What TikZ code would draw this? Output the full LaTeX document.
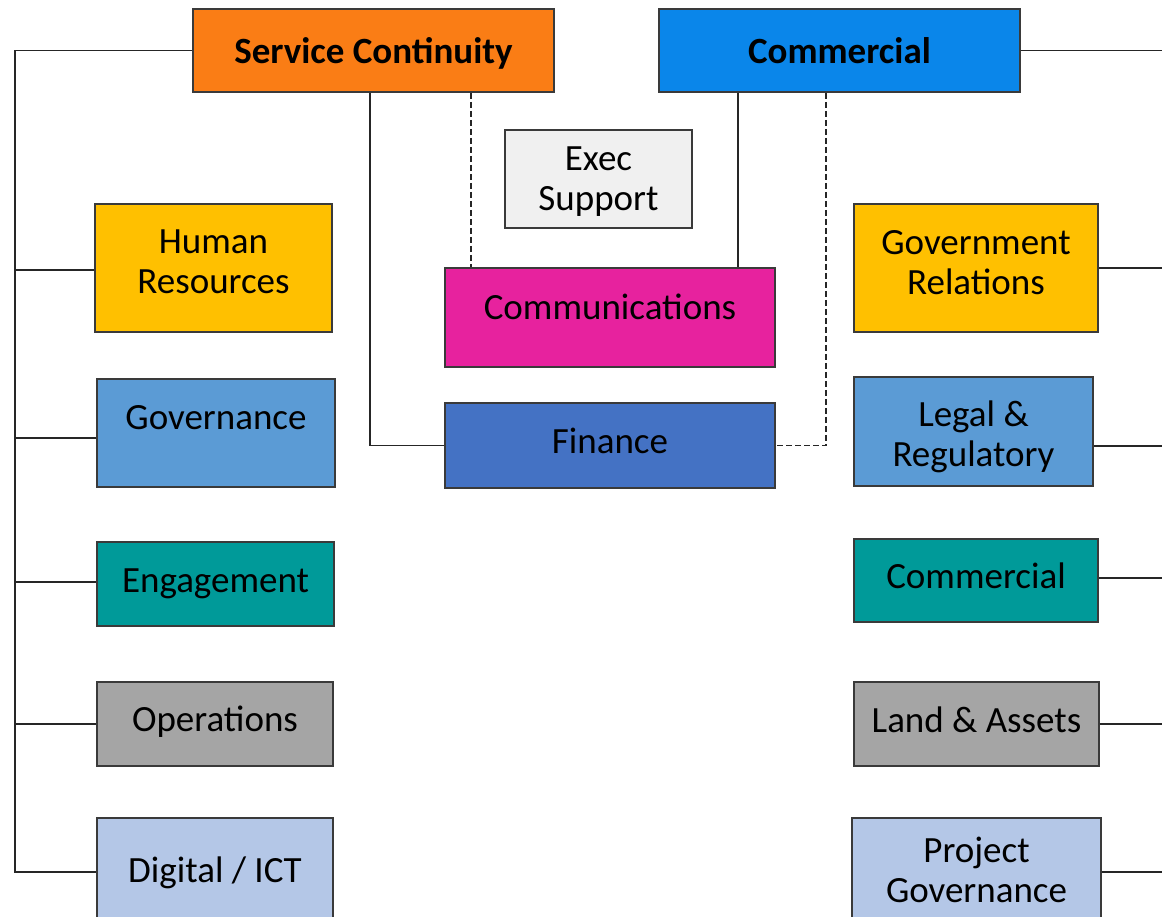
\documentclass[tikz,border=0pt]{standalone}
\usepackage{fontspec}
\setmainfont{Carlito}
\definecolor{cOrange}{HTML}{FA7D15}
\definecolor{cBlue}{HTML}{0A86EA}
\definecolor{cExec}{HTML}{F0F0F0}
\definecolor{cMagenta}{HTML}{E7229E}
\definecolor{cFin}{HTML}{4472C4}
\definecolor{cYellow}{HTML}{FFC000}
\definecolor{cGov}{HTML}{5B9BD5}
\definecolor{cTeal}{HTML}{009A99}
\definecolor{cGray}{HTML}{A5A5A5}
\definecolor{cLight}{HTML}{B4C7E7}
\definecolor{cEdge}{HTML}{3A3A3A}
\begin{document}
\begin{tikzpicture}[x=1pt,y=-1pt,
  box/.style={draw=cEdge, line width=1.6pt, rectangle, inner sep=0pt, align=center,
    font=\fontsize{37}{40}\selectfont},
  headbox/.style={box, font=\fontsize{37}{40}\selectfont\bfseries},
  link/.style={draw=black!85, line width=1.3pt},
  dlink/.style={link, dashed, dash pattern=on 6pt off 3pt}]
\path[use as bounding box, clip] (0,0) rectangle (1162,917);

% top heads
\node[headbox, fill=cOrange, minimum width=361pt, minimum height=83pt, text height=32pt] (sc) at (373.5,50.5) {Service Continuity};
\node[headbox, fill=cBlue, minimum width=361pt, minimum height=83pt] (com) at (839.5,50.5) {Commercial};

% centre
\node[box, fill=cExec, minimum width=187pt, minimum height=98pt, text height=68pt] (exec) at (598.5,179) {Exec\\Support};
\node[box, fill=cMagenta, minimum width=330pt, minimum height=99pt, text depth=22pt] (comm) at (610,317.5) {Communications};
\node[box, fill=cFin, minimum width=330pt, minimum height=85pt, text depth=10pt] (fin) at (610,445.5) {Finance};

% left column
\node[box, fill=cYellow, minimum width=237pt, minimum height=128pt, text depth=12pt] (hr) at (213.5,268) {Human\\Resources};
\node[box, fill=cGov, minimum width=238pt, minimum height=108pt, text depth=32pt] (gov) at (216,433) {Governance};
\node[box, fill=cTeal, minimum width=237pt, minimum height=84pt] (eng) at (215.5,584) {Engagement};
\node[box, fill=cGray, minimum width=236pt, minimum height=84pt, text depth=11.5pt] (ops) at (215,724) {Operations};
\node[box, fill=cLight, minimum width=236pt, minimum height=104pt, text height=32pt] (dig) at (215,870) {Digital / ICT};

% right column
\node[box, fill=cYellow, minimum width=244pt, minimum height=128pt, text depth=12pt] (gr) at (976,268) {Government\\Relations};
\node[box, fill=cGov, minimum width=239pt, minimum height=109pt, text height=76pt] (leg) at (973.5,431.5) {Legal \&\\Regulatory};
\node[box, fill=cTeal, minimum width=244pt, minimum height=83pt, text depth=10pt] (rcom) at (976,580.5) {Commercial};
\node[box, fill=cGray, minimum width=245pt, minimum height=84pt, text depth=8pt] (land) at (976.5,724) {Land \& Assets};
\node[box, fill=cLight, minimum width=249pt, minimum height=104pt] (proj) at (976.5,870) {Project\\Governance};

% left trunk
\coordinate (ltop) at (15,50.5);
\coordinate (lbot) at (15,872);
\draw[link] (sc.west) -- (ltop) -- (lbot) -- ([yshift=-2pt]dig.west);
\draw[link] ([yshift=-2pt]hr.west) -- ([yshift=-2pt]hr.west -| ltop);
\draw[link] ([yshift=-5pt]gov.west) -- ([yshift=-5pt]gov.west -| ltop);
\draw[link] ([yshift=2pt]eng.west) -- ([yshift=2pt]eng.west -| ltop);
\draw[link] (ops.west) -- (ops.west -| ltop);

% right side to edge
\coordinate (redge) at (1163,50.5);
\draw[link] (com.east) -- (redge);
\draw[link] (gr.east) -- (gr.east -| redge);
\draw[link] ([yshift=-14.5pt]leg.east) -- ([yshift=-14.5pt]leg.east -| redge);
\draw[link] ([yshift=2.5pt]rcom.east) -- ([yshift=2.5pt]rcom.east -| redge);
\draw[link] (land.east) -- (land.east -| redge);
\draw[link] ([yshift=-2pt]proj.east) -- ([yshift=-2pt]proj.east -| redge);

% centre connectors
\draw[link] ([xshift=-3.5pt]sc.south) |- (fin.west);
\draw[dlink] ([xshift=97.5pt]sc.south) -- ([xshift=97.5pt]sc.south |- comm.north);
\draw[link] ([xshift=-101.5pt]com.south) -- ([xshift=-101.5pt]com.south |- comm.north);
\draw[dlink] ([xshift=-13.5pt]com.south) |- (fin.east);
\end{tikzpicture}
\end{document}
